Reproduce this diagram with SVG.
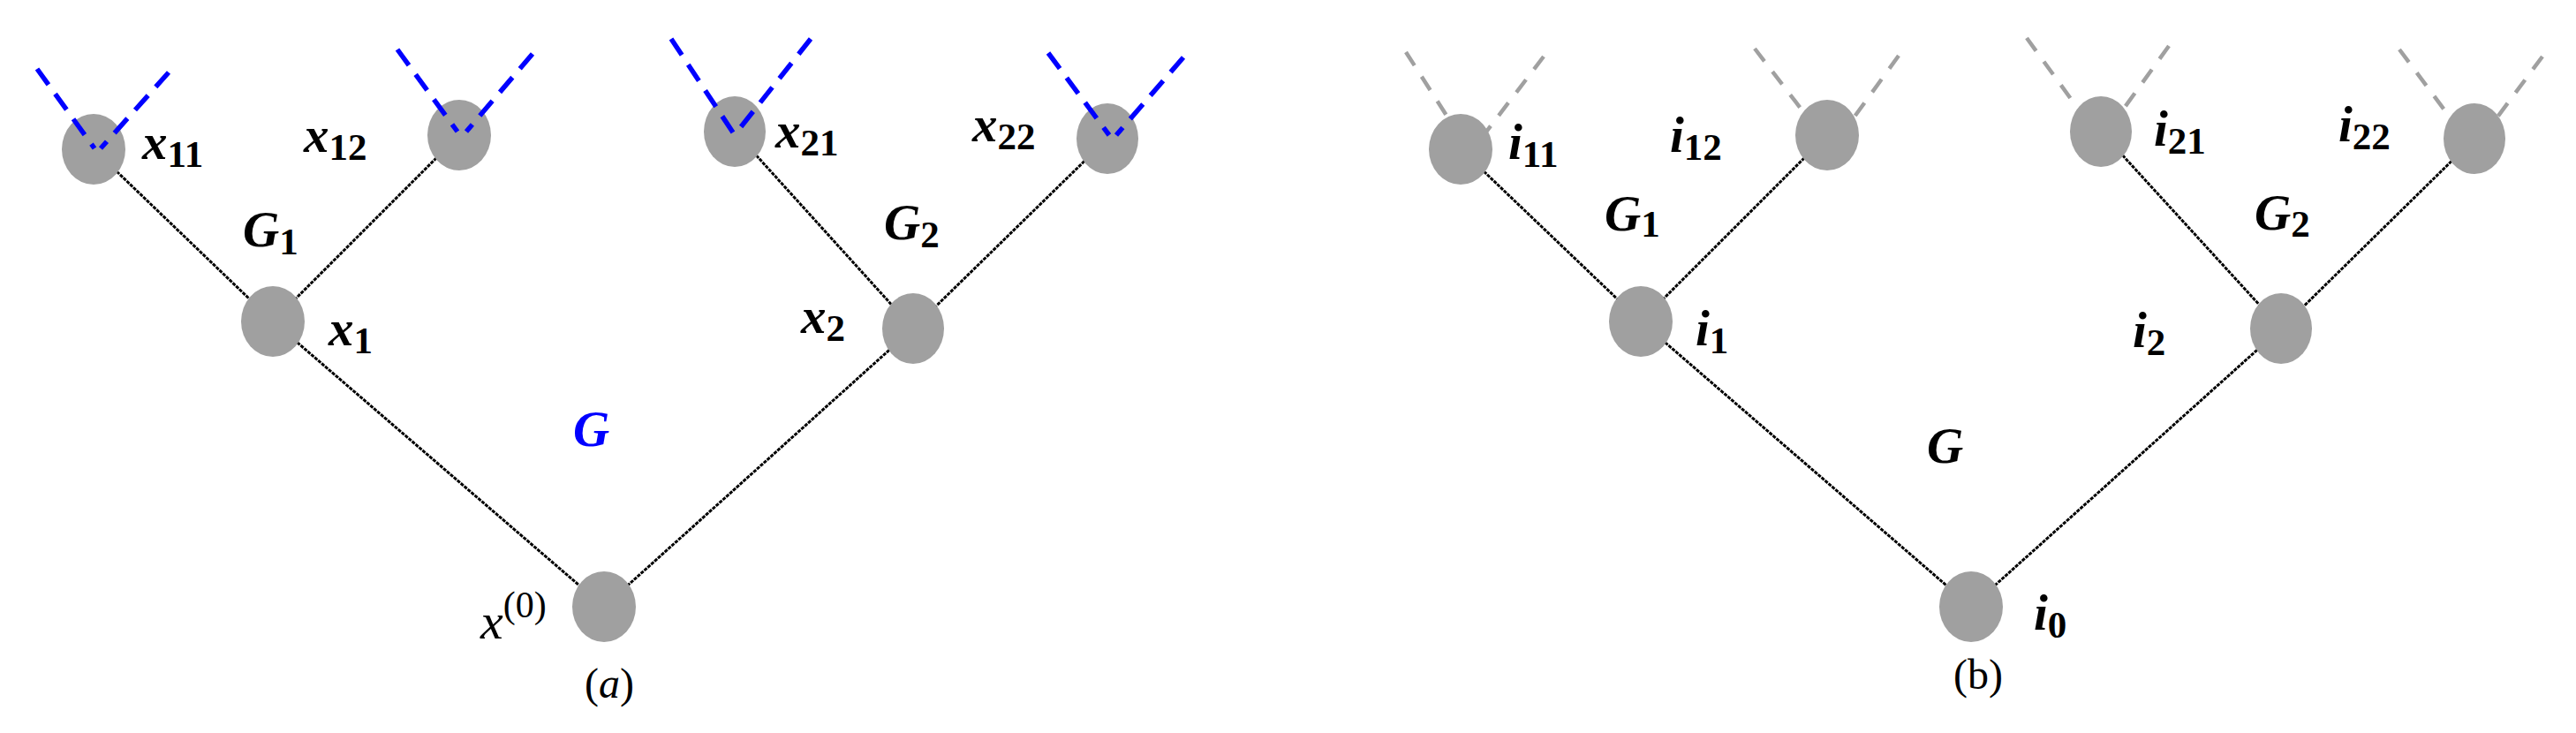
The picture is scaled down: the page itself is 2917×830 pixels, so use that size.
<svg xmlns="http://www.w3.org/2000/svg" width="2917" height="830" viewBox="0 0 2917 830">
<style>
.edge{stroke:#000;stroke-width:3;stroke-dasharray:4 1.2;fill:none}
.blue{stroke:#0000ff;stroke-width:5.5;stroke-dasharray:22 13;fill:none}
.gray{stroke:#a0a0a0;stroke-width:4.5;stroke-dasharray:18 15;fill:none}
.node{fill:#a0a0a0}
</style>
<rect width="2917" height="830" fill="#fff"/>
<g id="connectors">
<line class="edge" x1="106" y1="169" x2="309" y2="364"/>
<line class="edge" x1="520" y1="153" x2="309" y2="364"/>
<line class="edge" x1="309" y1="364" x2="684" y2="687"/>
<line class="edge" x1="832" y1="149" x2="1034" y2="372"/>
<line class="edge" x1="1254" y1="157" x2="1034" y2="372"/>
<line class="edge" x1="1034" y1="372" x2="684" y2="687"/>
<line class="edge" x1="1654" y1="169" x2="1858" y2="364"/>
<line class="edge" x1="2069" y1="153" x2="1858" y2="364"/>
<line class="edge" x1="1858" y1="364" x2="2232" y2="687"/>
<line class="edge" x1="2379" y1="149" x2="2583" y2="372"/>
<line class="edge" x1="2802" y1="157" x2="2583" y2="372"/>
<line class="edge" x1="2583" y1="372" x2="2232" y2="687"/>
<line class="gray" x1="1592" y1="59" x2="1660" y2="165"/>
<line class="gray" x1="1748" y1="64" x2="1671" y2="165"/>
<line class="gray" x1="1987" y1="55" x2="2060" y2="150"/>
<line class="gray" x1="2150" y1="63" x2="2087" y2="150"/>
<line class="gray" x1="2295" y1="43" x2="2369" y2="145"/>
<line class="gray" x1="2456" y1="52" x2="2389" y2="145"/>
<line class="gray" x1="2717" y1="56" x2="2787" y2="150"/>
<line class="gray" x1="2879" y1="64" x2="2815" y2="150"/>
</g>
<g id="node-x11"><ellipse class="node" cx="106" cy="169" rx="36" ry="40"/></g>
<g id="node-x12"><ellipse class="node" cx="520" cy="153" rx="36" ry="40"/></g>
<g id="node-x1"><ellipse class="node" cx="309" cy="364" rx="36" ry="40"/></g>
<g id="node-x21"><ellipse class="node" cx="832" cy="149" rx="35" ry="40"/></g>
<g id="node-x22"><ellipse class="node" cx="1254" cy="157" rx="35" ry="40"/></g>
<g id="node-x2"><ellipse class="node" cx="1034" cy="372" rx="35" ry="40"/></g>
<g id="node-x0"><ellipse class="node" cx="684" cy="687" rx="36" ry="40"/></g>
<g id="node-i11"><ellipse class="node" cx="1654" cy="169" rx="36" ry="40"/></g>
<g id="node-i12"><ellipse class="node" cx="2069" cy="153" rx="36" ry="40"/></g>
<g id="node-i1"><ellipse class="node" cx="1858" cy="364" rx="36" ry="40"/></g>
<g id="node-i21"><ellipse class="node" cx="2379" cy="149" rx="35" ry="40"/></g>
<g id="node-i22"><ellipse class="node" cx="2802" cy="157" rx="35" ry="40"/></g>
<g id="node-i2"><ellipse class="node" cx="2583" cy="372" rx="35" ry="40"/></g>
<g id="node-i0"><ellipse class="node" cx="2232" cy="687" rx="36" ry="40"/></g>
<g id="blue-branches">
<line class="blue" x1="42" y1="78" x2="107" y2="168"/>
<line class="blue" x1="191" y1="82" x2="114" y2="168"/>
<line class="blue" x1="450" y1="56" x2="518" y2="149"/>
<line class="blue" x1="603" y1="61" x2="528" y2="149"/>
<line class="blue" x1="760" y1="44" x2="830" y2="150"/>
<line class="blue" x1="918" y1="44" x2="834" y2="150"/>
<line class="blue" x1="1187" y1="60" x2="1256" y2="153"/>
<line class="blue" x1="1340" y1="65" x2="1264" y2="153"/>
</g>
<g id="labels-a" font-family="Liberation Serif, serif" font-weight="bold" font-style="italic" font-size="57" fill="#000">
<text x="161" y="180">x<tspan font-size="43" font-style="normal" dy="9">11</tspan></text>
<text x="344" y="172">x<tspan font-size="43" font-style="normal" dy="9">12</tspan></text>
<text x="275" y="279">G<tspan font-size="43" font-style="normal" dy="9">1</tspan></text>
<text x="372" y="391">x<tspan font-size="43" font-style="normal" dy="9">1</tspan></text>
<text x="878" y="167">x<tspan font-size="43" font-style="normal" dy="9">21</tspan></text>
<text x="1101" y="160">x<tspan font-size="43" font-style="normal" dy="9">22</tspan></text>
<text x="1001" y="271">G<tspan font-size="43" font-style="normal" dy="9">2</tspan></text>
<text x="907" y="377">x<tspan font-size="43" font-style="normal" dy="9">2</tspan></text>
<text x="649" y="505" fill="#0000ff">G</text>
<text x="544" y="723" font-weight="normal" font-size="58">x<tspan font-size="42" font-style="normal" dy="-24">(0)</tspan></text>
<text x="662" y="790" font-weight="normal" font-style="normal" font-size="48">(<tspan font-style="italic">a</tspan>)</text>
</g>
<g id="labels-b" font-family="Liberation Serif, serif" font-weight="bold" font-style="italic" font-size="57" fill="#000">
<text x="1708" y="180">i<tspan font-size="43" font-style="normal" dy="9">11</tspan></text>
<text x="1891" y="172">i<tspan font-size="43" font-style="normal" dy="9">12</tspan></text>
<text x="1817" y="261">G<tspan font-size="43" font-style="normal" dy="7">1</tspan></text>
<text x="1920" y="391">i<tspan font-size="43" font-style="normal" dy="9">1</tspan></text>
<text x="2439" y="165">i<tspan font-size="43" font-style="normal" dy="9">21</tspan></text>
<text x="2648" y="160">i<tspan font-size="43" font-style="normal" dy="9">22</tspan></text>
<text x="2553" y="260">G<tspan font-size="43" font-style="normal" dy="8">2</tspan></text>
<text x="2415" y="393">i<tspan font-size="43" font-style="normal" dy="9">2</tspan></text>
<text x="2182" y="524">G</text>
<text x="2303" y="713">i<tspan font-size="43" font-style="normal" dy="9">0</tspan></text>
<text x="2212" y="780" font-weight="normal" font-style="normal" font-size="48">(b)</text>
</g>
</svg>
